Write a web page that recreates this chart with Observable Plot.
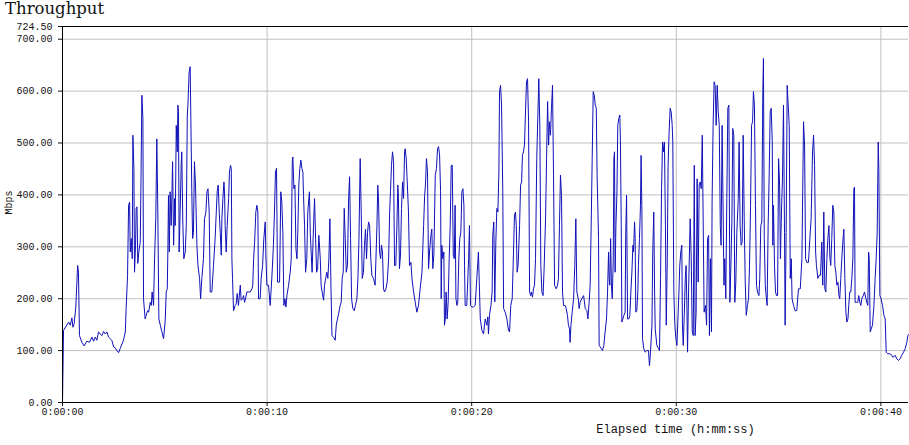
<!DOCTYPE html>
<html>
<head>
<meta charset="utf-8">
<script src="https://cdn.jsdelivr.net/npm/d3@7"></script>
<script src="https://cdn.jsdelivr.net/npm/@observablehq/plot@0.6"></script>
<style>
  html, body { margin: 0; padding: 0; background: #fff; overflow: hidden; }
  #title { font-family: "DejaVu Serif", serif; font-size: 16.5px; line-height: 18px; height: 18px; padding-left: 5px; color: #111; white-space: nowrap; }
</style>
</head>
<body>
<div id="title">Throughput</div>
<div id="chart"></div>
<script>
const times = [
0,0.05,0.30,0.38,0.46,0.51,0.57,0.65,0.74,0.78,0.83,0.95,1.06,1.19,1.32,1.44,1.52,1.60,1.68,1.76,1.84,1.93,2.01,2.09,2.17,2.25,2.33,2.41,2.50,2.58,2.66,2.74,2.82,2.98,3.07,3.11,3.18,3.23,3.28,3.31,3.36,3.41,3.44,3.49,3.52,3.57,3.60,3.64,3.68,3.73,3.80,3.83,3.88,3.93,3.96,4.04,4.09,4.16,4.21,4.29,4.34,4.38,4.45,4.50,4.56,4.61,4.66,4.71,4.78,4.86,4.94,
5.02,5.07,5.12,5.15,5.18,5.22,5.26,5.31,5.35,5.38,5.43,5.48,5.51,5.56,5.61,5.64,5.67,5.70,5.75,5.80,5.83,5.88,5.93,6.00,6.05,6.10,6.13,6.19,6.24,6.29,6.32,6.36,6.40,6.45,6.50,6.57,6.62,6.70,6.75,6.81,6.89,6.94,7.01,7.06,7.11,7.17,7.22,7.30,7.38,7.46,7.51,7.56,7.61,7.66,7.71,7.76,7.79,7.84,7.89,7.92,7.95,8.00,8.05,8.12,8.16,8.21,8.25,8.28,8.31,8.36,8.44,8.49,8.54,8.60,8.69,8.73,8.80,8.85,8.90,8.96,9.01,9.09,9.17,9.26,9.30,9.34,9.39,9.45,9.50,9.55,9.58,9.66,9.71,9.78,9.84,9.91,9.94,9.99,10.07,
10.15,10.23,10.31,10.36,10.41,10.46,10.51,10.61,10.67,10.72,10.77,10.82,10.87,10.92,10.97,11.05,11.13,11.18,11.23,11.26,11.31,11.36,11.41,11.46,11.50,11.55,11.60,11.65,11.70,11.75,11.78,11.83,11.88,11.94,11.99,12.04,12.07,12.11,12.16,12.20,12.27,12.32,12.37,12.42,12.47,12.53,12.60,12.64,12.69,12.76,12.81,12.86,12.92,12.97,13.02,13.07,13.12,13.17,13.25,13.33,13.38,13.44,13.51,13.57,13.62,13.67,13.72,13.77,13.82,13.87,13.93,13.98,14.03,14.08,14.13,14.19,14.26,14.32,14.39,14.44,14.49,14.55,14.60,14.65,14.71,14.76,14.81,14.86,14.91,14.96,15.01,15.07,15.12,15.20,
15.28,15.37,15.41,15.45,15.50,15.55,15.59,15.64,15.69,15.74,15.81,15.87,15.94,15.99,16.03,16.08,16.13,16.18,16.23,16.29,16.34,16.39,16.42,16.47,16.52,16.57,16.62,16.67,16.72,16.75,16.80,16.85,16.91,16.96,17.03,17.08,17.16,17.24,17.32,17.40,17.48,17.57,17.65,17.70,17.74,17.79,17.84,17.89,17.94,17.99,18.05,18.10,18.15,18.22,18.28,18.33,18.38,18.43,18.48,18.51,18.54,18.59,18.64,18.67,18.71,18.75,18.80,18.85,18.90,18.95,19.00,19.05,19.10,19.15,19.19,19.23,19.28,19.32,19.37,19.42,19.47,19.52,19.57,19.62,19.65,19.68,19.76,19.85,19.89,19.94,20.01,20.09,20.17,20.25,20.33,
20.42,20.50,20.58,20.66,20.74,20.79,20.82,20.87,20.94,21.00,21.03,21.08,21.13,21.18,21.23,21.28,21.33,21.36,21.41,21.46,21.52,21.56,21.64,21.72,21.80,21.85,21.91,21.98,22.04,22.09,22.14,22.18,22.22,22.27,22.34,22.39,22.44,22.48,22.53,22.58,22.63,22.68,22.73,22.78,22.83,22.88,22.92,22.97,23.02,23.07,23.12,23.18,23.23,23.28,23.33,23.38,23.43,23.49,23.54,23.61,23.66,23.71,23.76,23.80,23.85,23.90,23.95,24.00,24.05,24.13,24.20,24.24,24.29,24.34,24.39,24.44,24.49,24.57,24.62,24.68,24.73,24.78,24.81,24.85,24.91,24.98,25.04,25.09,25.14,25.21,25.25,25.30,25.38,25.47,
25.55,25.63,25.68,25.74,25.79,25.84,25.89,25.94,25.99,26.04,26.09,26.13,26.20,26.23,26.33,26.39,26.46,26.52,26.59,26.64,26.69,26.72,26.75,26.79,26.83,26.87,26.92,26.95,26.98,27.01,27.05,27.10,27.14,27.19,27.24,27.27,27.31,27.34,27.39,27.44,27.50,27.53,27.57,27.62,27.68,27.73,27.78,27.83,27.88,27.91,27.96,27.99,28.02,28.07,28.12,28.15,28.20,28.25,28.28,28.32,28.35,28.41,28.48,28.56,28.64,28.69,28.74,28.81,28.85,28.90,28.94,28.97,29.05,29.13,29.18,29.23,29.28,29.33,29.38,29.42,29.47,29.51,29.56,29.60,29.65,29.70,29.75,29.80,29.83,29.88,29.93,29.98,30.03,30.08,30.13,30.17,30.22,30.27,30.30,30.34,30.39,30.44,30.48,30.52,30.55,30.60,
30.68,30.73,30.78,30.83,30.88,30.92,30.97,31.02,31.07,31.12,31.17,31.22,31.27,31.31,31.36,31.43,31.48,31.53,31.58,31.62,31.67,31.72,31.75,31.80,31.85,31.90,31.95,32.00,32.05,32.10,32.15,32.19,32.24,32.29,32.33,32.37,32.42,32.47,32.52,32.57,32.62,32.67,32.72,32.76,32.81,32.86,32.91,32.96,33.03,33.07,33.12,33.17,33.22,33.27,33.32,33.37,33.42,33.48,33.53,33.58,33.63,33.68,33.73,33.77,33.82,33.87,33.92,33.97,34.04,34.08,34.13,34.18,34.23,34.26,34.30,34.35,34.39,34.44,34.49,34.54,34.59,34.64,34.69,34.72,34.75,34.80,34.85,34.90,34.95,35.00,35.05,35.09,35.14,35.19,35.24,35.29,35.32,35.37,35.42,35.47,35.52,35.57,35.62,35.66,35.73,
35.81,35.89,35.97,36.06,36.14,36.22,36.27,36.32,36.38,36.46,36.53,36.59,36.66,36.71,36.76,36.81,36.85,36.92,36.98,37.05,37.11,37.16,37.21,37.26,37.31,37.36,37.41,37.46,37.51,37.55,37.60,37.65,37.70,37.75,37.80,37.85,37.90,37.95,37.99,38.04,38.09,38.14,38.19,38.24,38.29,38.34,38.39,38.43,38.48,38.53,38.58,38.63,38.68,38.71,38.74,38.81,38.87,38.92,38.97,39.02,39.07,39.14,39.20,39.27,39.31,39.36,39.40,39.43,39.48,39.53,39.59,39.66,39.72,39.77,39.82,39.87,39.90,39.95,40.01,40.08,40.15,40.21,40.26,40.34,40.44,40.54,40.60,40.70,40.78,40.86,40.94,41.02,41.11,41.19,41.27,41.32,41.38
];
const mbps = [
0,139,155,149,163,145,152,184,264,251,129,116,109,118,116,126,118,126,120,136,132,129,137,132,136,126,123,120,107,105,100,96,104,120,136,181,245,380,386,290,316,277,515,451,251,303,374,377,268,290,309,406,592,547,200,161,168,177,174,193,187,213,187,277,354,508,367,161,149,136,123,
158,213,219,290,399,290,406,341,403,464,303,393,341,534,483,573,560,290,367,457,483,348,277,290,341,554,573,637,647,496,406,316,328,464,419,303,264,239,200,239,277,354,367,406,412,367,213,213,264,316,361,406,419,367,328,284,354,393,425,406,341,290,341,393,444,457,451,277,239,177,187,190,210,187,226,197,200,206,193,203,213,213,213,219,226,277,309,367,380,367,200,200,239,264,316,348,284,226,226,
187,239,303,367,444,451,232,232,406,386,328,187,200,184,206,226,251,277,464,473,412,419,296,277,328,419,451,467,451,444,399,341,251,277,367,393,406,328,284,251,341,393,316,251,258,322,277,226,213,197,226,239,251,239,277,354,226,129,126,120,149,161,174,187,193,239,251,374,316,251,264,386,435,316,200,181,177,187,200,239,316,470,367,239,251,303,334,277,328,348,341,277,245,239,
226,341,419,386,290,277,303,290,219,213,219,232,277,367,406,457,483,464,264,264,334,419,393,258,284,374,425,393,483,489,470,425,367,264,270,239,213,193,174,187,219,251,341,399,419,470,444,258,290,316,334,258,284,438,451,489,493,477,406,200,303,277,290,149,161,213,161,193,277,341,457,457,284,277,380,200,187,193,277,316,328,406,412,380,264,187,187,277,341,187,184,184,187,239,290,
161,139,132,161,149,165,132,168,187,213,322,348,194,309,374,367,444,599,611,573,406,181,174,161,139,136,187,200,284,361,367,341,251,264,341,419,425,476,483,496,560,618,624,541,213,206,213,203,219,226,277,470,547,624,534,264,213,206,258,354,470,580,496,541,515,567,611,438,226,219,226,239,341,438,399,213,187,187,181,168,149,142,116,149,174,200,264,354,213,200,181,193,200,206,
181,177,161,193,226,341,470,599,592,573,567,438,316,110,104,100,110,136,161,213,290,239,226,316,226,200,277,470,483,251,341,406,534,547,554,502,341,155,161,168,174,328,399,161,161,168,213,251,303,290,348,316,174,177,213,264,316,380,476,367,123,104,97,100,100,71,97,149,290,367,213,142,110,104,100,239,412,502,483,502,341,149,277,457,521,567,560,534,502,213,149,123,110,161,213,264,290,303,149,110,168,239,264,181,97,213,
354,277,136,129,457,129,174,431,232,419,425,412,515,367,174,187,149,316,322,129,277,136,386,534,618,611,534,611,560,534,341,303,534,367,226,277,200,393,567,573,193,264,354,528,515,193,232,328,393,502,341,303,309,515,354,232,168,187,200,264,380,534,541,599,573,380,226,213,206,239,341,348,599,663,316,226,206,187,341,438,560,567,502,303,380,264,213,206,206,470,419,277,367,431,573,328,149,328,611,573,534,239,277,200,187,
177,177,219,219,277,541,496,277,270,270,316,354,483,515,457,290,264,239,245,245,309,226,367,219,213,277,316,341,277,264,316,380,367,264,251,226,232,206,200,239,277,309,334,239,174,155,161,187,213,213,239,277,412,415,193,193,193,206,193,187,200,206,213,200,193,187,290,277,136,142,149,187,239,277,328,502,451,206,200,187,168,161,97,94,94,91,87,91,84,81,84,91,97,104,116,129,132
];

const yTicks = [0, 100, 200, 300, 400, 500, 600, 700, 724.5];
const yGrid = [100, 200, 300, 400, 500, 600, 700];
const xTicks = [0, 10, 20, 30, 40];
const xGrid = [10, 20, 30, 40];
const yMax = 724.5;
const xMax = 41.35;

const data = times.map((t, i) => ({t, v: mbps[i]}));
const mono = "'Liberation Mono', 'DejaVu Sans Mono', monospace";

const chart = Plot.plot({
  width: 909,
  height: 427,
  marginLeft: 62,
  marginRight: 1,
  marginTop: 8,
  marginBottom: 43,
  style: {fontFamily: mono, fontSize: "10px", background: "#fff", color: "#111"},
  x: {domain: [0, xMax]},
  y: {domain: [0, yMax]},
  marks: [
    Plot.gridY(yGrid, {stroke: "#c0c0c0", strokeOpacity: 1}),
    Plot.gridX(xGrid, {stroke: "#c0c0c0", strokeOpacity: 1}),
    Plot.ruleY([yMax], {stroke: "#000"}),
    Plot.line(data, {x: "t", y: "v", stroke: "#1010b8", strokeWidth: 1}),
    Plot.ruleX([0], {stroke: "#000"}),
    Plot.ruleY([0], {stroke: "#000"}),
    Plot.axisY(yTicks, {tickFormat: d => d.toFixed(2), tickSize: 4, tickPadding: 6, label: null, fontFamily: mono, fontSize: 10}),
    Plot.axisX(xTicks, {tickFormat: d => `0:00:${String(d).padStart(2, "0")}`, tickSize: 4, tickPadding: 1, label: null, fontFamily: mono, fontSize: 10}),
    Plot.text(["Mbps"], {frameAnchor: "left", dx: -54, rotate: -90, fontFamily: mono, fontSize: 10}),
    Plot.text(["Elapsed time (h:mm:ss)"], {frameAnchor: "bottom", dx: 190, dy: 30, fontFamily: mono, fontSize: 12})
  ]
});
document.getElementById("chart").appendChild(chart);
</script>
</body>
</html>
